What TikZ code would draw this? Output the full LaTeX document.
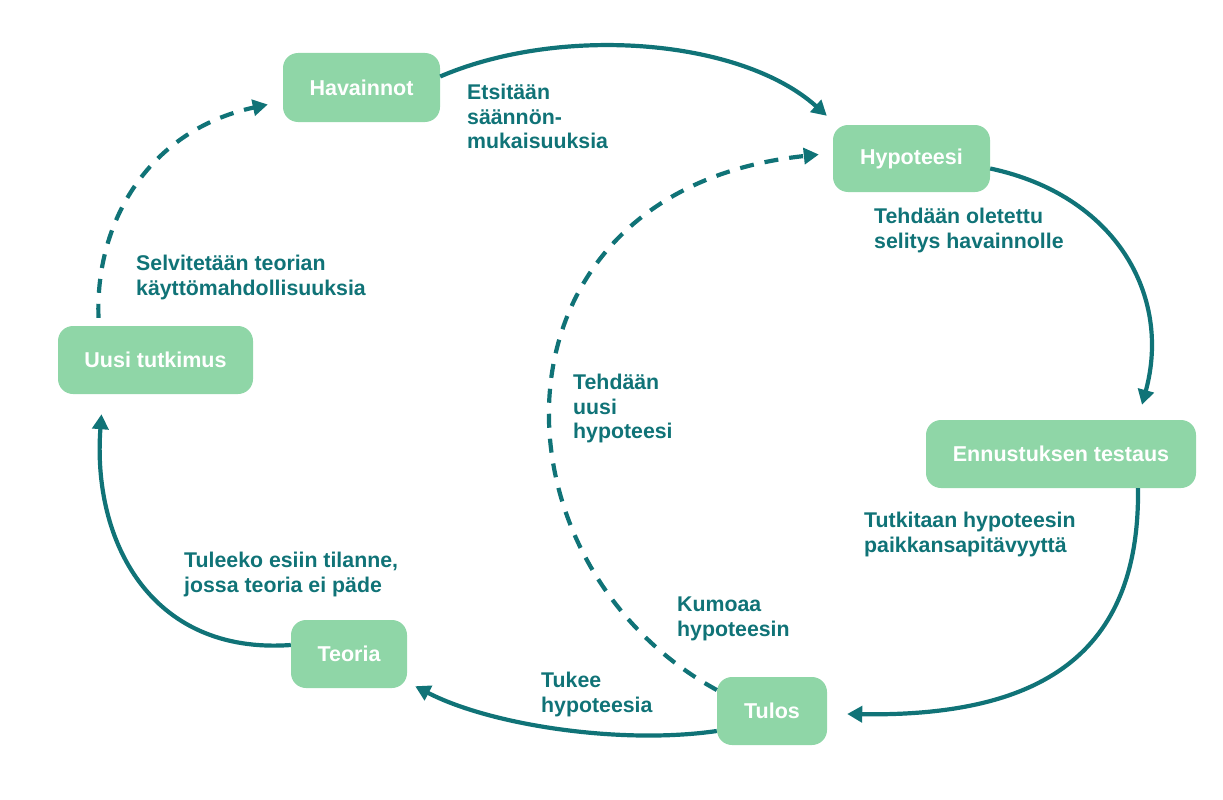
\documentclass[tikz,border=0pt]{standalone}
\usepackage{fontspec}
\setmainfont{Liberation Sans}
\usetikzlibrary{arrows.meta,calc}
\definecolor{boxgreen}{RGB}{143,214,167}
\definecolor{teal}{RGB}{16,115,119}
\begin{document}
\begin{tikzpicture}[x=1pt,y=-1pt,
  stepbox/.style={draw=none,fill=boxgreen,rounded corners=15pt,text=white,
    font=\fontsize{21.5}{25}\selectfont\bfseries,inner sep=0pt,align=center},
  lbl/.style={anchor=north west,inner sep=0pt,text=teal,align=left,
    font=\fontsize{21.3}{24.5}\selectfont\bfseries},
  conn/.style={draw=teal,line width=4.2pt,-{Triangle[length=15pt,width=16pt]}},
  dconn/.style={conn,dash pattern=on 14pt off 11pt}]
\path[use as bounding box] (0,0) rectangle (1223,800);

\node[stepbox,minimum width=157pt,minimum height=69pt] (hav) at (361.5,87.5) {Havainnot};
\node[stepbox,minimum width=157pt,minimum height=67pt] (hyp) at (911.5,158.5) {Hypoteesi};
\node[stepbox,minimum width=270pt,minimum height=68pt] (ent) at (1061,454) {Ennustuksen testaus};
\node[stepbox,minimum width=110pt,minimum height=68pt] (tul) at (772,711) {Tulos};
\node[stepbox,minimum width=116pt,minimum height=68pt] (teo) at (349,654) {Teoria};
\node[stepbox,minimum width=195pt,minimum height=68pt] (uus) at (155.5,360) {Uusi tutkimus};

% connectors
\draw[conn] ($(hav.east)+(0,-11)$) .. controls (560,25) and (740,38) .. ($(hyp.north west)+(-6,-9)$);
\draw[conn] ($(hyp.east)+(0,10)$) .. controls (1115,195) and (1172,295) .. ($(ent.north)+(81,-15)$);
\draw[conn] ($(ent.south)+(77,0)$) .. controls (1140,655) and (1040,717) .. ($(tul.east)+(20,3)$);
\draw[conn] ($(tul.west)+(0,20)$) .. controls (620,745) and (490,725) .. ($(teo.south east)+(8,-2)$);
\draw[conn] ($(teo.west)+(0,-9)$) .. controls (150,655) and (92,540) .. ($(uus.south)+(-54,20)$);
\draw[dconn] ($(uus.north)+(-57,-8)$) .. controls (95,220) and (150,130) .. ($(hav.west)+(-15,17)$);
\draw[dconn] ($(tul.west)+(0,-21)$) .. controls (480,560) and (480,190) .. ($(hyp.west)+(-14,-4)$);

% labels
\node[lbl] (l1) at (467,84) {Etsitään\\säännön-\\mukaisuuksia};
\node[lbl] (l2) at (874,208) {Tehdään oletettu\\selitys havainnolle};
\node[lbl] (l3) at (864,512) {Tutkitaan hypoteesin\\paikkansapitävyyttä};
\node[lbl] (l4) at (677,597) {Kumoaa\\hypoteesin};
\node[lbl] (l5) at (541,672) {Tukee\\hypoteesia};
\node[lbl] (l6) at (184,552) {Tuleeko esiin tilanne,\\jossa teoria ei päde};
\node[lbl] (l7) at (136,255) {Selvitetään teorian\\käyttömahdollisuuksia};
\node[lbl] (l8) at (573,374) {Tehdään\\uusi\\hypoteesi};
\end{tikzpicture}
\end{document}
